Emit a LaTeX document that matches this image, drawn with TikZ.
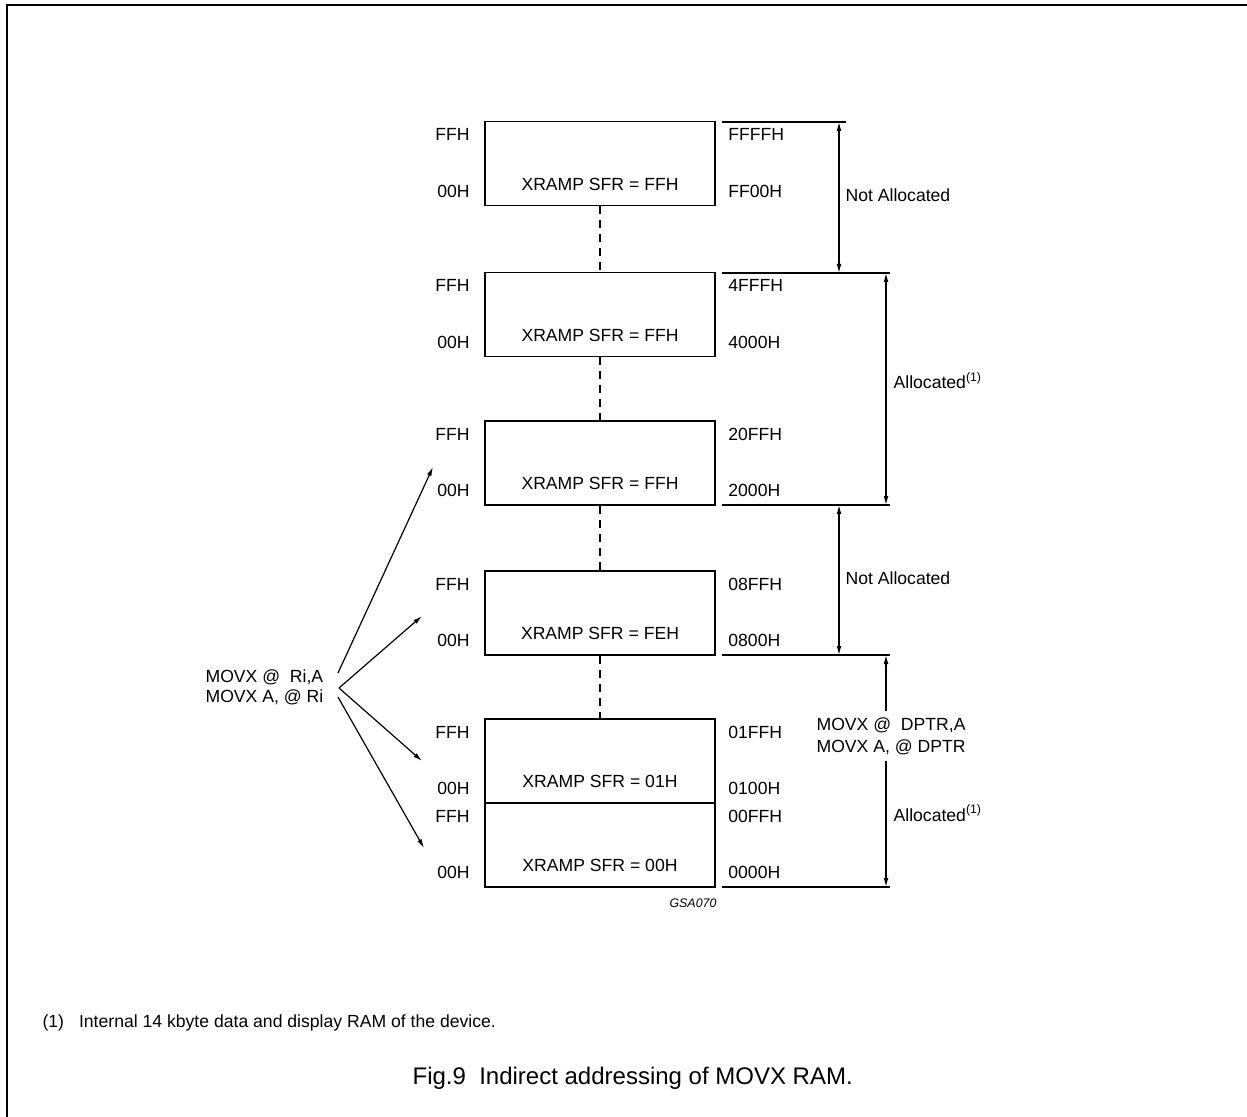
\documentclass[tikz,border=0pt]{standalone}
\usepackage{fontspec}
\setmainfont{Liberation Sans}
\usetikzlibrary{arrows.meta}

\begin{document}
\begin{tikzpicture}[x=0.5pt,y=-0.5pt,>={Latex[length=4.5pt,width=2.4pt]},line width=0.6pt,
    page node/.style={draw,line width=0.8pt,minimum width=115pt,minimum height=42pt,inner sep=0pt},
    addr node/.style={inner sep=0pt,font=\fontsize{8.8}{11}\selectfont},
    gap line/.style={dash pattern=on 4pt off 3pt}]
    \useasboundingbox (0,0) rectangle (1247,1117);
    \draw[line width=0.9pt] (1247,5) -- (7,5) -- (7,1117);

    % pages
    \node[page node] (p1) at (600,163.5) {};
    \node[page node] (p2) at (600,314.5) {};
    \node[page node] (p3) at (600,463) {};
    \node[page node] (p4) at (600,613) {};
    \node[page node] (p5) at (600,761) {};
    \node[page node] (p6) at (600,845) {};

    \node[addr node] (s1) at ([yshift=11pt]p1.south) {XRAMP SFR = FFH};
    \node[addr node] (s2) at ([yshift=11pt]p2.south) {XRAMP SFR = FFH};
    \node[addr node] (s3) at ([yshift=11pt]p3.south) {XRAMP SFR = FFH};
    \node[addr node] (s4) at ([yshift=11pt]p4.south) {XRAMP SFR = FEH};
    \node[addr node] (s5) at ([yshift=11pt]p5.south) {XRAMP SFR = 01H};
    \node[addr node] (s6) at ([yshift=11pt]p6.south) {XRAMP SFR = 00H};

    % offsets in page
    \node[addr node,anchor=east] (h1) at ([xshift=-7pt,yshift=-7pt]p1.north west) {FFH};
    \node[addr node,anchor=east] (l1) at ([xshift=-7pt,yshift=7.5pt]p1.south west) {00H};
    \node[addr node,anchor=east] (h2) at ([xshift=-7pt,yshift=-7pt]p2.north west) {FFH};
    \node[addr node,anchor=east] (l2) at ([xshift=-7pt,yshift=7.5pt]p2.south west) {00H};
    \node[addr node,anchor=east] (h3) at ([xshift=-7pt,yshift=-7pt]p3.north west) {FFH};
    \node[addr node,anchor=east] (l3) at ([xshift=-7pt,yshift=7.5pt]p3.south west) {00H};
    \node[addr node,anchor=east] (h4) at ([xshift=-7pt,yshift=-7pt]p4.north west) {FFH};
    \node[addr node,anchor=east] (l4) at ([xshift=-7pt,yshift=7.5pt]p4.south west) {00H};
    \node[addr node,anchor=east] (h5) at ([xshift=-7pt,yshift=-7pt]p5.north west) {FFH};
    \node[addr node,anchor=east] (l5) at ([xshift=-7pt,yshift=7.5pt]p5.south west) {00H};
    \node[addr node,anchor=east] (h6) at ([xshift=-7pt,yshift=-7pt]p6.north west) {FFH};
    \node[addr node,anchor=east] (l6) at ([xshift=-7pt,yshift=7.5pt]p6.south west) {00H};

    % full addresses
    \node[addr node,anchor=west] (a1) at ([xshift=6pt,yshift=-7pt]p1.north east) {FFFFH};
    \node[addr node,anchor=west] (b1) at ([xshift=6pt,yshift=7.5pt]p1.south east) {FF00H};
    \node[addr node,anchor=west] (a2) at ([xshift=6pt,yshift=-7pt]p2.north east) {4FFFH};
    \node[addr node,anchor=west] (b2) at ([xshift=6pt,yshift=7.5pt]p2.south east) {4000H};
    \node[addr node,anchor=west] (a3) at ([xshift=6pt,yshift=-7pt]p3.north east) {20FFH};
    \node[addr node,anchor=west] (b3) at ([xshift=6pt,yshift=7.5pt]p3.south east) {2000H};
    \node[addr node,anchor=west] (a4) at ([xshift=6pt,yshift=-7pt]p4.north east) {08FFH};
    \node[addr node,anchor=west] (b4) at ([xshift=6pt,yshift=7.5pt]p4.south east) {0800H};
    \node[addr node,anchor=west] (a5) at ([xshift=6pt,yshift=-7pt]p5.north east) {01FFH};
    \node[addr node,anchor=west] (b5) at ([xshift=6pt,yshift=7.5pt]p5.south east) {0100H};
    \node[addr node,anchor=west] (a6) at ([xshift=6pt,yshift=-7pt]p6.north east) {00FFH};
    \node[addr node,anchor=west] (b6) at ([xshift=6pt,yshift=7.5pt]p6.south east) {0000H};

    \draw[gap line] (p1) -- (p2);
    \draw[gap line] (p2) -- (p3);
    \draw[gap line] (p3) -- (p4);
    \draw[gap line] (p4) -- (p5);

    % boundaries
    \coordinate (r0) at (722,122); \coordinate (q0) at (846,122);
    \coordinate (r1) at (722,273); \coordinate (q1) at (890,273);
    \coordinate (r2) at (722,505); \coordinate (q2) at (890,505);
    \coordinate (r3) at (722,655); \coordinate (q3) at (890,655);
    \coordinate (r4) at (722,887); \coordinate (q4) at (890,887);
    \draw (r0) -- (q0) (r1) -- (q1) (r2) -- (q2) (r3) -- (q3) (r4) -- (q4);

    \coordinate (n0) at (839,122); \coordinate (n1) at (839,273);
    \coordinate (n2) at (839,505); \coordinate (n3) at (839,655);
    \coordinate (m1) at (886,273); \coordinate (m2) at (886,505);
    \coordinate (m3) at (886,655); \coordinate (m4) at (886,887);

    \node[addr node,anchor=west] (na1) at (845,195) {Not Allocated};
    \node[addr node,anchor=base west] (al1) at (893,389) {Allocated\textsuperscript{(1)}};
    \node[addr node,anchor=west] (na2) at (845,578) {Not Allocated};
    \node[addr node,anchor=base west] (al2) at (893,821) {Allocated\textsuperscript{(1)}};
    \node[addr node,align=left,anchor=west,inner sep=3pt] (dptr) at (810,736) {MOVX @\ \ DPTR,A\\MOVX A, @ DPTR};

    \draw[<->] (n0) -- (n1);
    \draw[<->] (m1) -- (m2);
    \draw[<->] (n2) -- (n3);
    \draw[->] (dptr.north -| m3) -- (m3);
    \draw[->] (dptr.south -| m4) -- (m4);

    % MOVX Ri
    \node[addr node,align=left,anchor=west,font=\fontsize{8.8}{10}\selectfont] (ri) at (205,687) {MOVX @\ \ Ri,A\\MOVX A, @ Ri};
    \coordinate (o1) at (338,673); \coordinate (o2) at (339,688); \coordinate (o3) at (338,697);
    \coordinate (k1) at (433,467); \coordinate (k2) at (422,616);
    \coordinate (k3) at (422,761); \coordinate (k4) at (424,848);
    \draw[->] (o1) -- (k1);
    \draw[->] (o2) -- (k2);
    \draw[->] (o2) -- (k3);
    \draw[->] (o3) -- (k4);

    \node[inner sep=0pt,font=\fontsize{6.2}{7}\selectfont\itshape] (gsa) at (693,903) {GSA070};
    \node[addr node,anchor=west] (note) at (42,1023) {(1)\hspace{0.85em}Internal 14 kbyte data and display RAM of the device.};
    \node[inner sep=0pt,anchor=west,font=\fontsize{12}{14}\selectfont] (cap) at (412,1078) {Fig.9\ \ Indirect addressing of MOVX RAM.};
\end{tikzpicture}
\end{document}
